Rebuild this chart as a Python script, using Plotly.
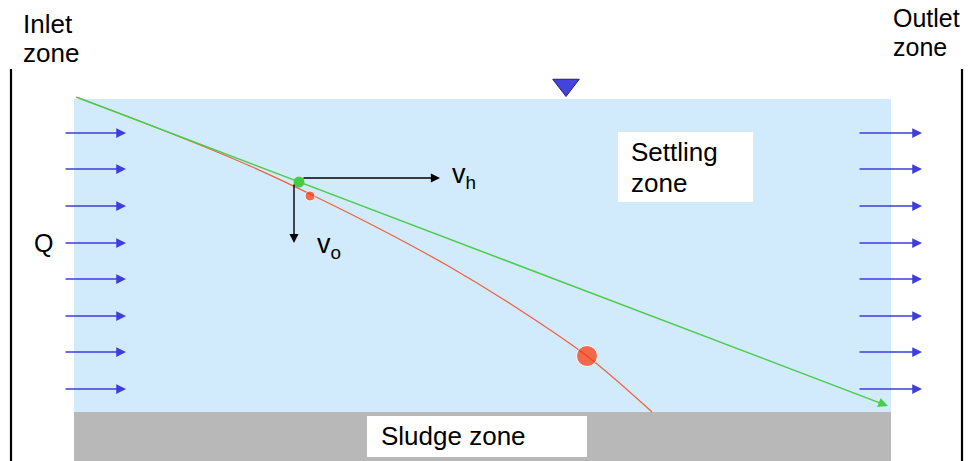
import plotly.graph_objects as go

# ---- data (diagram coordinates, pixel space of a 974x461 canvas) ----
arrow_rows = [133, 169, 206, 243, 279, 316, 352, 389]
inlet_arrow_x = [64, 126]
outlet_arrow_x = [858, 922]
basin_x = [74, 891]
water_y = [99, 412]
sludge_y = [412, 461]
walls_x = [11, 962]
wall_top = 69

green_path_x = [76, 888]
green_path_y = [97, 406]
red_path_x = [76, 160, 250, 310, 380, 450, 520, 587, 652]
red_path_y = [97, 129, 166, 194, 229, 267, 310, 356, 412]

green_dot = (299, 182)
red_small = (310, 196)
red_big = (587, 356)

vh_arrow = [(302, 178), (440, 178)]
vo_arrow = [(294, 183), (294, 243)]
surface_mark = (566, 85)

settling_box = [618, 753, 132, 202]
sludge_box = [367, 587, 416, 457]

FONT = "Liberation Sans, Arial, sans-serif"
BLUE = "#3d3de0"

fig = go.Figure()

shapes = []
shapes.append(dict(type="rect", x0=basin_x[0], x1=basin_x[1], y0=water_y[0], y1=water_y[1],
                   fillcolor="#d2ebfc", line=dict(width=0), layer="below"))
shapes.append(dict(type="rect", x0=basin_x[0], x1=basin_x[1], y0=sludge_y[0], y1=sludge_y[1],
                   fillcolor="#b8b8b8", line=dict(width=0), layer="below"))
shapes.append(dict(type="rect", x0=settling_box[0], x1=settling_box[1], y0=settling_box[2], y1=settling_box[3],
                   fillcolor="white", line=dict(width=0), layer="below"))
shapes.append(dict(type="rect", x0=sludge_box[0], x1=sludge_box[1], y0=sludge_box[2], y1=sludge_box[3],
                   fillcolor="white", line=dict(width=0), layer="below"))
for wx in walls_x:
    shapes.append(dict(type="line", x0=wx, x1=wx, y0=wall_top, y1=461,
                       line=dict(color="black", width=2.2)))

annotations = []
# inflow / outflow arrows
for yy in arrow_rows:
    for xs in (inlet_arrow_x, outlet_arrow_x):
        annotations.append(dict(x=xs[1], y=yy, ax=xs[0], ay=yy, axref="x", ayref="y",
                                xref="x", yref="y", text="", showarrow=True,
                                arrowhead=2, arrowsize=1.3, arrowwidth=1.5, arrowcolor=BLUE))

# green straight trajectory
annotations.append(dict(x=green_path_x[1], y=green_path_y[1], ax=green_path_x[0], ay=green_path_y[0],
                        axref="x", ayref="y", xref="x", yref="y", text="", showarrow=True,
                        arrowhead=2, arrowsize=1.3, arrowwidth=1.5, arrowcolor="#4ccc4c"))
# velocity arrows
for (p0, p1) in (vh_arrow, vo_arrow):
    annotations.append(dict(x=p1[0], y=p1[1], ax=p0[0], ay=p0[1], axref="x", ayref="y",
                            xref="x", yref="y", text="", showarrow=True,
                            arrowhead=2, arrowsize=1.3, arrowwidth=1.4, arrowcolor="black"))

def label(txt, x, y, size=26, xanchor="left"):
    annotations.append(dict(x=x, y=y, xref="x", yref="y", text=txt, showarrow=False,
                            xanchor=xanchor, yanchor="middle",
                            font=dict(family=FONT, size=size, color="black")))

label("Inlet", 21, 24)
label("zone", 21, 53)
label("Outlet", 891, 18, size=25)
label("zone", 891, 47, size=25)
label("Settling", 629, 152)
label("zone", 629, 183)
label("Sludge zone", 379, 436)
label("Q", 32, 243, size=25)
label("v<sub>h</sub>", 450, 176, size=27)
label("v<sub>o</sub>", 315, 246, size=27)

# red curved trajectory
fig.add_trace(go.Scatter(x=red_path_x, y=red_path_y, mode="lines",
                         line=dict(color="#f2603f", width=1.3, shape="spline"),
                         hoverinfo="skip", showlegend=False))
# particles
fig.add_trace(go.Scatter(x=[green_dot[0]], y=[green_dot[1]], mode="markers",
                         marker=dict(color="#44cc44", size=11), showlegend=False))
fig.add_trace(go.Scatter(x=[red_small[0], red_big[0]], y=[red_small[1], red_big[1]], mode="markers",
                         marker=dict(color="#ff3300", size=[10, 21]), showlegend=False))
# water surface marker
fig.add_trace(go.Scatter(x=[surface_mark[0]], y=[surface_mark[1]], mode="markers",
                         marker=dict(symbol="triangle-down", color="#4444dd", size=23,
                                     line=dict(color="#222266", width=1)), showlegend=False))

fig.update_layout(width=974, height=461, margin=dict(l=0, r=0, t=0, b=0),
                  paper_bgcolor="white", plot_bgcolor="white",
                  shapes=shapes, annotations=annotations, showlegend=False,
                  xaxis=dict(range=[0, 974], visible=False, fixedrange=True),
                  yaxis=dict(range=[461, 0], visible=False, fixedrange=True))

fig.write_html("out.html", config={"displayModeBar": False},
               post_script="document.body.style.margin='0';document.body.style.overflow='hidden';")
